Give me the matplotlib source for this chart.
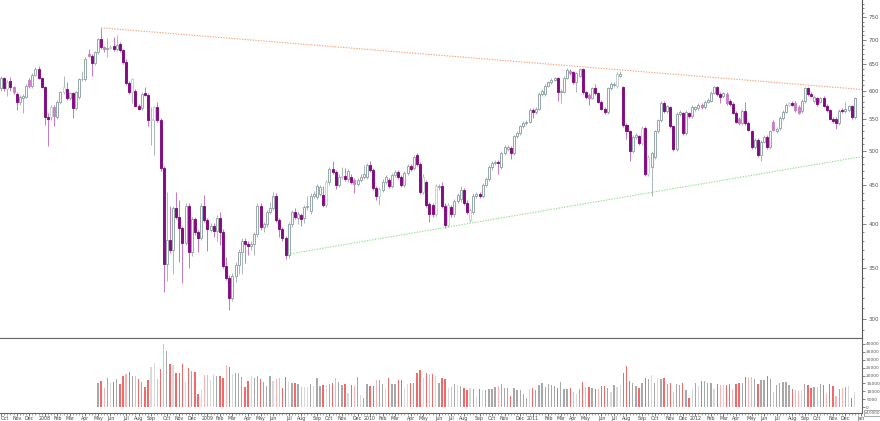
import numpy as np
import pandas as pd
import matplotlib
matplotlib.use("Agg")
import matplotlib.pyplot as plt
from matplotlib.ticker import FixedLocator, NullFormatter, FuncFormatter

# weekly candles, first week starts 2007-10-01
start_week = "2007-10-01"

opens = [
    604, 623, 603, 618, 606, 594, 579, 586, 589, 620,
    608, 630, 641, 624, 606, 553, 553, 571, 553, 579,
    597, 603, 586, 595, 569, 588, 621, 621, 671, 667,
    652, 674, 701, 684, 681, 683, 686, 680, 692, 678,
    654, 614, 597, 600, 573, 569, 596, 592, 549, 549,
    570, 549, 474, 354, 381, 370, 420, 409, 395, 378,
    423, 367, 406, 390, 384, 423, 405, 393, 398, 392,
    408, 391, 352, 340, 320, 342, 353, 367, 380, 377,
    374, 377, 388, 423, 396, 400, 415, 420, 436, 405,
    394, 383, 364, 400, 415, 408, 411, 407, 421, 416,
    436, 434, 438, 437, 424, 454, 473, 468, 451, 462,
    463, 458, 462, 457, 452, 457, 462, 462, 478, 471,
    446, 436, 444, 455, 457, 449, 464, 469, 461, 451,
    467, 477, 474, 494, 480, 441, 454, 425, 424,
    413, 447, 449, 423, 399, 421, 412, 429, 431, 443,
    427, 405, 415, 436, 438, 436, 450, 459, 475, 481,
    483, 476, 496, 502, 504, 496,
    522, 527, 538,
    544, 546, 566, 562, 568, 594, 593, 609, 615, 620,
    623, 597, 598, 624, 637, 634, 616, 628, 640, 597,
    592, 587, 604, 595, 580, 568, 562, 604, 610, 608,
    628, 606, 540, 530, 499, 521, 522, 511, 536, 466,
    476, 491, 530, 548, 578, 564, 570, 538, 502, 559,
    560, 528, 560, 555, 567, 569, 574, 571, 580, 582,
    596, 606, 594, 590, 594, 582, 576, 561, 550, 544,
    564, 544, 530, 506, 517, 493, 514, 521, 506, 545,
    530, 536, 552, 563, 575, 578, 578, 571, 564, 581,
    604, 594, 581, 586, 580, 587, 573, 565, 551, 551, 544,
    566, 564, 566, 572, 554,
]

highs = [
    628, 626, 620, 626, 609, 597, 592, 593, 612, 623,
    633, 644, 646, 626, 608, 560, 575, 574, 583, 600,
    627, 615, 598, 597, 600, 624, 636, 664, 680, 670,
    677, 704, 726, 688, 703, 690, 707, 710, 696, 681,
    660, 617, 624, 603, 576, 597, 606, 595, 571, 573,
    580, 552, 477, 441, 423, 422, 441, 430, 398, 426,
    426, 409, 409, 393, 426, 437, 408, 401, 401, 411,
    415, 394, 362, 343, 345, 356, 371, 383, 383, 380,
    380, 391, 426, 426, 403, 418, 428, 441, 439, 408,
    397, 386, 403, 418, 420, 416, 414, 424, 436, 439,
    442, 452, 450, 449, 457, 476, 485, 471, 465, 475,
    474, 473, 465, 460, 460, 465, 478, 481, 485, 474,
    449, 448, 458, 464, 460, 467, 472, 472, 464, 470,
    480, 480, 494, 496, 483, 465, 457, 428, 427,
    452, 452, 455, 426, 427, 424, 432, 440, 449, 446,
    430, 420, 439, 441, 441, 453, 462, 478, 484, 486,
    486, 499, 508, 508, 507, 525,
    530, 541, 547,
    549, 569, 569, 571, 597, 603, 612, 618, 623, 626,
    626, 603, 627, 642, 640, 637, 635, 643, 643, 600,
    595, 607, 613, 598, 583, 571, 607, 615, 615, 634,
    637, 609, 543, 533, 524, 527, 525, 539, 539, 493,
    499, 533, 551, 581, 581, 575, 573, 541, 562, 565,
    563, 565, 563, 574, 573, 578, 577, 583, 586, 599,
    609, 609, 597, 598, 597, 585, 579, 564, 553, 567,
    579, 547, 533, 520, 520, 517, 524, 524, 533, 548,
    537, 555, 566, 578, 580, 581, 581, 574, 584, 607,
    607, 597, 592, 589, 589, 590, 576, 568, 554, 554, 567,
    569, 579, 575, 575, 589,
]

lows = [
    600, 600, 590, 600, 594, 566, 575, 561, 586, 604,
    605, 628, 622, 604, 541, 507, 548, 538, 550, 576,
    594, 583, 583, 552, 566, 585, 618, 618, 664, 627,
    649, 671, 681, 675, 665, 680, 677, 677, 675, 650,
    610, 594, 577, 570, 565, 566, 590, 539, 509, 494,
    546, 470, 325, 336, 366, 344, 406, 357, 334, 375,
    350, 363, 387, 367, 381, 402, 369, 390, 385, 380,
    375, 350, 338, 308, 317, 335, 344, 344, 355, 364,
    370, 364, 385, 393, 390, 397, 412, 417, 402, 385,
    380, 360, 361, 397, 406, 400, 398, 401, 418, 413,
    433, 431, 435, 421, 421, 451, 465, 445, 448, 459,
    456, 455, 452, 440, 449, 454, 459, 459, 468, 443,
    430, 424, 441, 452, 446, 446, 461, 458, 448, 448,
    464, 470, 471, 477, 438, 438, 421, 403, 409,
    410, 444, 420, 395, 396, 409, 409, 426, 428, 424,
    412, 403, 412, 433, 433, 433, 447, 456, 472, 478,
    466, 473, 493, 499, 488, 493,
    519, 524, 535,
    541, 543, 552, 559, 565, 591, 590, 606, 612, 617,
    581, 578, 595, 621, 630, 613, 598, 625, 594, 585,
    574, 584, 592, 577, 565, 559, 559, 601, 607, 605,
    625, 537, 518, 485, 496, 518, 508, 508, 463, 463,
    436, 488, 527, 545, 561, 561, 535, 499, 499, 556,
    525, 525, 552, 552, 564, 566, 568, 568, 577, 579,
    593, 591, 578, 587, 575, 573, 558, 543, 541, 541,
    541, 530, 503, 503, 490, 485, 511, 503, 503, 530,
    527, 533, 549, 560, 572, 572, 563, 558, 561, 578,
    591, 588, 578, 573, 577, 570, 562, 548, 544, 534, 541,
    561, 561, 563, 551, 551,
]

closes = [
    623, 604, 615, 606, 597, 579, 588, 590, 608, 608,
    630, 641, 624, 606, 553, 550, 571, 556, 579, 597,
    606, 586, 595, 569, 597, 621, 622, 660, 666, 652,
    674, 701, 684, 681, 683, 685, 680, 690, 678, 654,
    614, 597, 621, 573, 568, 594, 592, 549, 551, 570,
    549, 474, 354, 381, 370, 420, 409, 395, 378, 423,
    367, 406, 390, 384, 423, 405, 394, 398, 392, 408,
    391, 352, 340, 320, 342, 353, 368, 380, 377, 374,
    377, 388, 423, 396, 400, 415, 420, 436, 405, 394,
    383, 364, 400, 415, 409, 413, 406, 421, 422, 436,
    438, 449, 447, 424, 454, 473, 468, 451, 462, 463,
    459, 470, 455, 452, 457, 462, 466, 478, 471, 446,
    436, 445, 455, 461, 449, 464, 469, 461, 451, 467,
    477, 473, 491, 480, 441, 462, 424, 413, 412,
    449, 449, 423, 399, 424, 412, 429, 437, 443, 427,
    415, 417, 436, 438, 436, 450, 459, 475, 481, 483,
    481, 496, 505, 505, 496, 522,
    527, 538, 544,
    546, 566, 562, 568, 594, 600, 609, 615, 620, 623,
    597, 600, 624, 639, 633, 616, 632, 640, 597, 588,
    587, 604, 595, 580, 568, 562, 604, 612, 612, 631,
    631, 540, 530, 499, 521, 524, 511, 536, 466, 490,
    496, 530, 548, 578, 564, 572, 538, 502, 559, 562,
    528, 562, 555, 571, 570, 575, 571, 580, 583, 596,
    606, 594, 588, 595, 578, 576, 561, 546, 544, 564,
    544, 533, 506, 517, 493, 514, 521, 506, 530, 533,
    534, 552, 563, 575, 577, 575, 566, 561, 581, 604,
    594, 591, 589, 576, 586, 573, 565, 551, 547, 544, 564,
    564, 567, 572, 554, 586,
]

# weeks drawn in the paler shade
pale_candles = [2, 4, 9, 16, 17, 20, 28, 33, 35, 42, 48, 49, 104, 109, 113,
                121, 135, 139, 143, 150, 182, 188, 197, 205, 207, 224, 232,
                236, 247, 252, 254, 255]

# volume only exists from week 31 on
vol_start = 31
volume = [
    15000, 16300, 11900, 18500, 15000, 15600, 17500, 14600, 20000, 20800,
    22500, 19400, 19800, 17900, 15600, 12500, 16900, 25400, 27700, 18100,
    24400, 40000, 35800, 27500, 26500, 21900, 21300, 27100, 15800, 25000,
    23100, 22300, 8500, 10600, 20600, 20200, 17100, 20600, 20000, 20000,
    18500, 26700, 25600, 21000, 21900, 21500, 19200, 12500, 16300, 20000,
    18300, 20000, 17700, 15600, 13100, 19600, 16300, 17500, 18500, 12100,
    19000, 16000, 15400, 15400, 14800,
    12900, 12900, 12700, 14600, 13100, 18300, 13500, 13800, 14200, 14600,
    15200, 18500, 15800, 13800, 14800, 8800, 13800, 13100, 19200, 7500,
    5800, 14600, 13300, 13300, 17100, 17100, 14400, 11500, 18300, 14800,
    14400, 17100, 16900, 11900, 14600, 15000, 15200, 21500, 23800, 18500,
    21900, 21000, 21000, 19600, 15200, 18500, 17700, 11900, 12900, 14400,
    13800, 13500, 11900, 11000, 12300, 11300, 7300, 11300, 10800, 11000,
    11300, 11500, 12700, 13500, 14400, 12300, 12100, 6900, 11900, 11000,
    11000, 8300, 5800, 11300, 12300, 10600, 14000, 15000, 12700, 14400,
    13800, 13500, 11900, 16000, 11500, 11700, 12300, 9600, 8500, 11300,
    15800, 12900, 12700, 12300, 11500, 11300,
    13100, 13100, 12300, 9400, 14000, 12900, 13800, 21500, 26300, 16500,
    15400, 13300, 11900, 15000, 18300, 17500, 20600, 15000, 18500, 17900,
    18300, 14600, 15400, 9400, 14800, 14200, 15400, 10800, 5800, 11500,
    15000, 13100, 16300, 16300, 15000, 15200, 11500, 14400, 13800, 13800,
    13800, 14400, 11300, 14400, 15000, 15000, 19200, 18300, 19200, 17900,
    14600, 17100, 16900, 19400, 17900, 9800, 13800, 15200, 15600, 15600,
    13800, 11300, 10600, 10200, 10600, 14800, 14000, 12300, 12900, 12900,
    14400, 14000, 9200, 14400, 13300, 7100, 11700, 11900, 12900, 13500,
    5600, 9800,
]

vol_pale = [
    0, 0, 1, 0, 1, 0, 0, 0, 0, 1, 0, 0, 1, 0, 0, 0, 0, 1, 1, 1,
    0, 1, 0, 0, 1, 0, 0, 0, 1, 0, 0, 0, 0, 1, 1, 1, 1, 1, 0, 0,
    0, 1, 0, 1, 0, 0, 0, 0, 0, 1, 0, 0, 0, 0, 0, 0, 1, 1, 1, 0,
    0, 1, 0, 0, 0,
    1, 1, 1, 0, 1, 0, 0, 0, 1, 0, 0, 1, 0, 0, 0, 1, 0, 1, 0, 1,
    0, 0, 0, 0, 1, 0, 0, 1, 0, 0, 0, 0, 0, 1, 1, 0, 0, 0, 0, 1,
    0, 1, 0, 1, 0, 0, 0, 1, 1, 0, 1, 0, 0, 0, 1, 0, 1, 0, 1, 0,
    0, 0, 0, 1, 0, 0, 0, 0, 0, 0, 0, 0, 0, 1, 0, 0, 0, 0, 0, 0,
    0, 0, 0, 0, 0, 0, 0, 1, 1, 0, 0, 1, 0, 0, 0, 1,
    0, 0, 0, 1, 0, 1, 1, 0, 0, 0, 0, 0, 0, 0, 0, 0, 1, 0, 1, 0,
    0, 0, 0, 1, 0, 0, 0, 0, 0, 1, 0, 1, 0, 0, 0, 0, 1, 0, 1, 1,
    0, 0, 1, 0, 0, 0, 0, 1, 1, 0, 0, 0, 0, 0, 0, 1, 0, 0, 0, 0,
    0, 0, 1, 1, 1, 0, 0, 0, 0, 1, 0, 0, 1, 0, 0, 1, 0, 1, 0, 1,
    0, 1,
]

# trend lines: (week index, price) end points
resistance = [(32, 726), (275.3, 602)]
support = [(91.75, 365), (275.3, 491)]

price_ticks = [300, 350, 400, 450, 500, 550, 600, 650, 700, 750]
vol_ticks = [0, 5000, 10000, 15000, 20000, 25000, 30000, 35000, 40000]

o = np.array(opens, float)
h = np.array(highs, float)
l = np.array(lows, float)
c = np.array(closes, float)
n = len(c)
xs = np.arange(n)
up = c >= o
pale = np.zeros(n, bool)
pale[pale_candles] = True

W, H = 880, 421
fig = plt.figure(figsize=(W / 100, H / 100), dpi=100)
ax = fig.add_axes([0, 1 - 338 / H, 862 / W, 338 / H])
axv = fig.add_axes([0, 1 - 413 / H, 862 / W, 75 / H], sharex=ax)

UP, UP_PALE = "#8fa2a6", "#c5cfd0"
DN, DN_PALE = "#820a82", "#c87ec8"
WICK_UP, WICK_DN = "#a9b7b9", "#c27ac2"

body_col = np.where(up, np.where(pale, UP_PALE, UP), np.where(pale, DN_PALE, DN))
face_col = np.where(up, "white", body_col)
wick_col = np.where(up, WICK_UP, WICK_DN)

ax.vlines(xs, l, h, colors=wick_col, lw=0.7, zorder=2)
bottoms = np.minimum(o, c)
heights = np.maximum(np.abs(c - o), 0.8)
ax.bar(xs, heights, bottom=bottoms, width=0.64, color=face_col,
       edgecolor=body_col, linewidth=0.65, zorder=3)

ax.plot(*zip(*resistance), ls=(0, (1.2, 1.2)), color="#f5a27a", lw=0.8, zorder=4)
ax.plot(*zip(*support), ls=(0, (1.2, 1.2)), color="#8fe08f", lw=0.8, zorder=4)

ax.set_yscale("log")
ax.set_ylim(283, 790)
ax.set_xlim(-0.32, 275.3)
ax.yaxis.tick_right()
ax.yaxis.set_major_locator(FixedLocator(price_ticks))
ax.yaxis.set_major_formatter(FuncFormatter(lambda v, p: f"{v:.0f}"))
ax.yaxis.set_minor_locator(FixedLocator([v for v in range(290, 790, 10) if v % 50]))
ax.yaxis.set_minor_formatter(NullFormatter())
ax.tick_params(axis="y", which="major", length=3, width=0.5, labelsize=4,
               pad=2, colors="#555555")
ax.tick_params(axis="y", which="minor", length=1.5, width=0.5, colors="#555555")
ax.tick_params(axis="x", which="both", bottom=False, labelbottom=False)
for s in ["top", "left"]:
    ax.spines[s].set_visible(False)
ax.spines["right"].set_color("#555555")
ax.spines["bottom"].set_color("#777777")
ax.spines["right"].set_linewidth(0.8)
ax.spines["bottom"].set_linewidth(0.8)

# volume panel
vx = np.arange(vol_start, vol_start + len(volume))
vup = up[vx]
vp = np.array(vol_pale, bool)
vcol = np.where(vup, np.where(vp, "#d9d9d9", "#a8a8a8"),
                np.where(vp, "#f8b4b4", "#f06a6a"))
axv.bar(vx, volume, width=0.42, color=vcol, linewidth=0)
axv.set_ylim(-3750, 43750)
axv.yaxis.tick_right()
axv.yaxis.set_major_locator(FixedLocator(vol_ticks))
axv.yaxis.set_major_formatter(FuncFormatter(lambda v, p: f"{v:.0f}"))
axv.tick_params(axis="y", length=2, width=0.5, labelsize=3.2, pad=1,
                colors="#555555")
axv.spines["left"].set_visible(False)
for s in ["top", "right", "bottom"]:
    axv.spines[s].set_color("#666666")
    axv.spines[s].set_linewidth(0.8)

# month labels on the first week of each month, year at January
dates = pd.date_range(start_week, periods=n + 2, freq="W-MON")
mpos, mlab = [0], [dates[0].strftime("%b")]
for k in range(1, len(dates)):
    if dates[k].month != dates[k - 1].month:
        mpos.append(k)
        if dates[k].month == 1 and k < n:
            mlab.append(str(dates[k].year))
        else:
            mlab.append(dates[k].strftime("%b"))
axv.xaxis.set_major_locator(FixedLocator(mpos))
axv.set_xticklabels(mlab)
axv.get_xticklabels()[0].set_horizontalalignment("left")
axv.xaxis.set_minor_locator(FixedLocator(np.arange(0, n + 2)))
axv.tick_params(axis="x", which="major", length=2, width=0.5, labelsize=3.4,
                pad=0.5, colors="#444444")
axv.tick_params(axis="x", which="minor", length=1.2, width=0.4, colors="#666666")

fig.text(865 / W, 1 - 414 / H, "x10000", fontsize=3, color="#555555",
         bbox=dict(boxstyle="square,pad=0.2", fc="white", ec="#888888", lw=0.5))

fig.savefig("out.png", dpi=100)
